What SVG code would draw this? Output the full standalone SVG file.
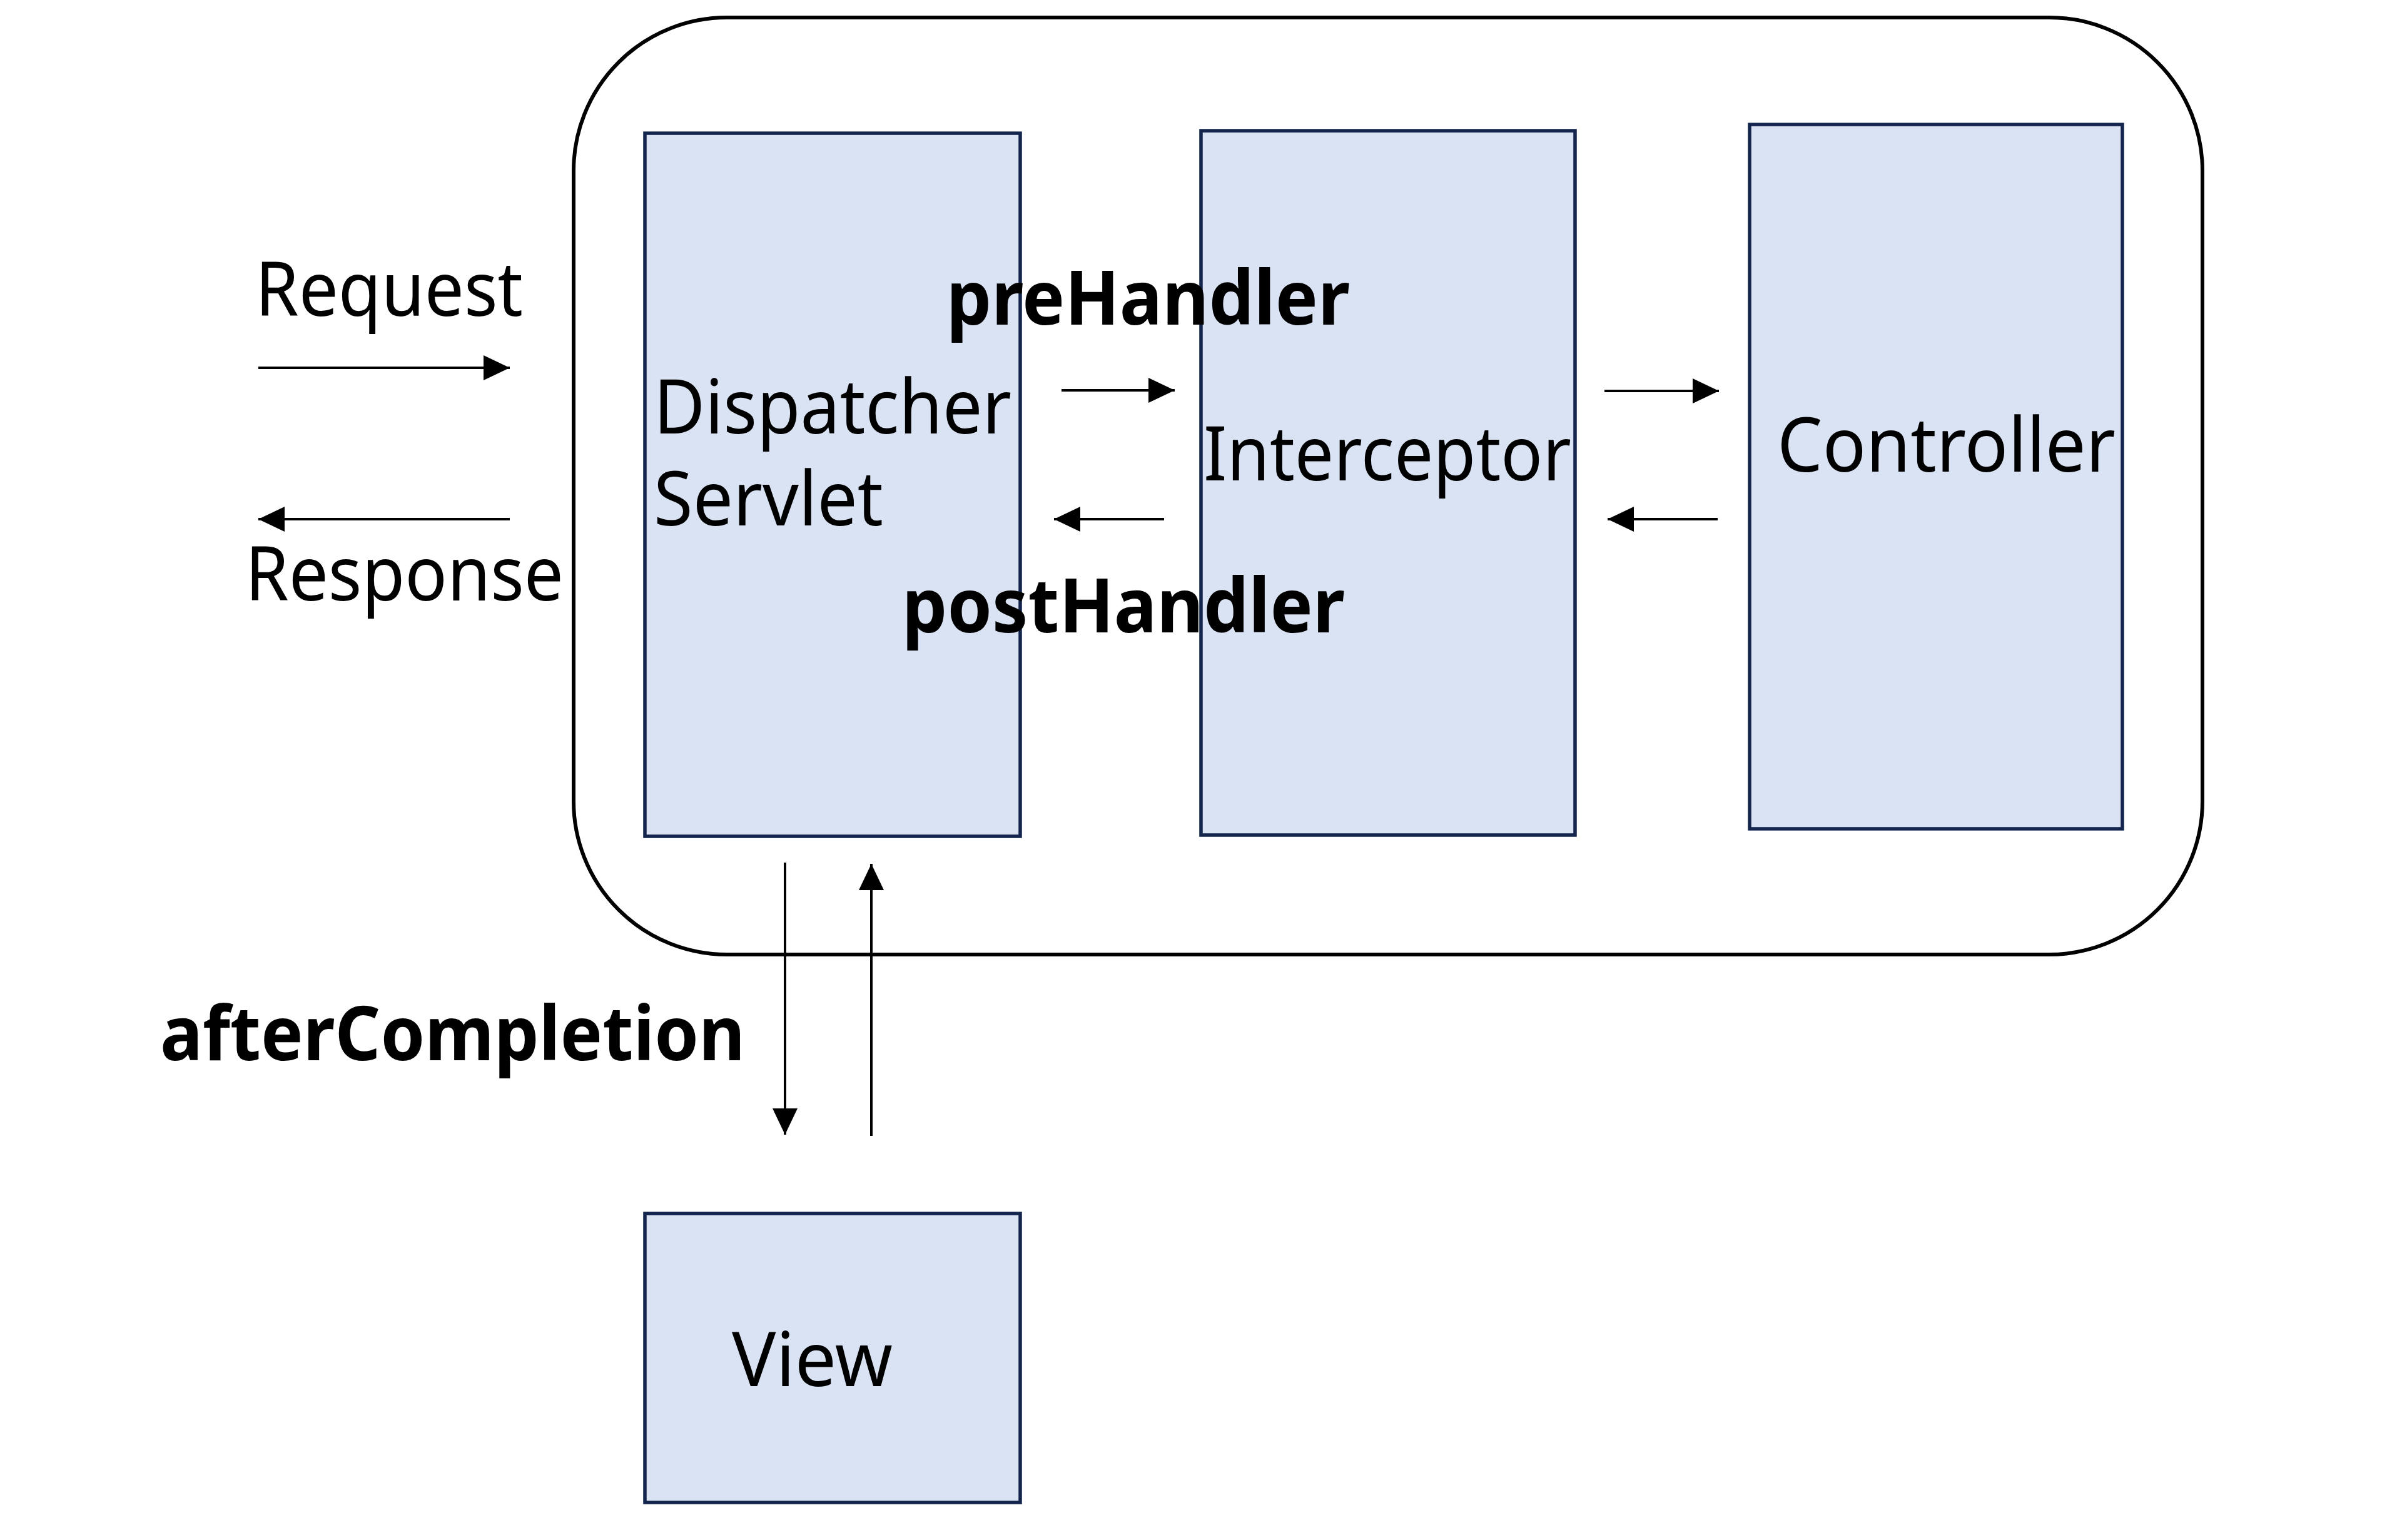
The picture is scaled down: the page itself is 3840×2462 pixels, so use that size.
<svg xmlns="http://www.w3.org/2000/svg" width="3840" height="2462" viewBox="0 0 3840 2462">
<defs>
<style>
.box{fill:#dae3f3;stroke:#13244d;stroke-width:5.5}
.frame{fill:none;stroke:#000;stroke-width:6}
.lbl{font-family:"Noto Sans","Open Sans",sans-serif;font-size:120px;fill:#000}
.b{font-weight:bold}
.con line{stroke:#000;stroke-width:4;fill:none;marker-end:url(#ah)}
</style>
<marker id="ah" markerUnits="userSpaceOnUse" markerWidth="44" markerHeight="44" viewBox="0 0 44 44" refX="42" refY="22" orient="auto">
<path d="M0,2 L42,22 L0,42 Z" fill="#000"/>
</marker>
</defs>
<rect width="3840" height="2462" fill="#fff"/>
<g id="container">
<rect class="frame" x="917" y="28" width="2604" height="1498" rx="245" ry="245"/>
</g>
<g id="dispatcher">
<rect class="box" x="1031" y="213" width="600" height="1124"/>
<text class="lbl" x="1045" y="693" textLength="572" lengthAdjust="spacingAndGlyphs">Dispatcher</text>
<text class="lbl" x="1045" y="840" textLength="367" lengthAdjust="spacingAndGlyphs">Servlet</text>
</g>
<g id="interceptor">
<rect class="box" x="1920" y="209" width="598" height="1126"/>
<text class="lbl" x="1924" y="768" textLength="588" lengthAdjust="spacingAndGlyphs">Interceptor</text>
</g>
<g id="controller">
<rect class="box" x="2797" y="199" width="596" height="1126"/>
<text class="lbl" x="2841" y="754" textLength="541" lengthAdjust="spacingAndGlyphs">Controller</text>
</g>
<g id="view">
<rect class="box" x="1031" y="1940" width="600" height="462"/>
<text class="lbl" x="1170" y="2216" textLength="257" lengthAdjust="spacingAndGlyphs">View</text>
</g>
<g id="labels">
<text class="lbl" x="408" y="505" textLength="428" lengthAdjust="spacingAndGlyphs">Request</text>
<text class="lbl" x="392" y="960" textLength="509" lengthAdjust="spacingAndGlyphs">Response</text>
<text class="lbl b" x="1513" y="519" textLength="645" lengthAdjust="spacingAndGlyphs">preHandler</text>
<text class="lbl b" x="1442" y="1011" textLength="708" lengthAdjust="spacingAndGlyphs">postHandler</text>
<text class="lbl b" x="256" y="1695" textLength="935" lengthAdjust="spacingAndGlyphs">afterCompletion</text>
</g>
<g id="connectors" class="con">
<line x1="413" y1="588" x2="815" y2="588"/>
<line x1="815" y1="830" x2="413" y2="830"/>
<line x1="1697" y1="624" x2="1878" y2="624"/>
<line x1="1861" y1="830" x2="1685" y2="830"/>
<line x1="2565" y1="625" x2="2748" y2="625"/>
<line x1="2746" y1="830" x2="2570" y2="830"/>
<line x1="1255" y1="1379" x2="1255" y2="1814"/>
<line x1="1393" y1="1816" x2="1393" y2="1381"/>
</g>
</svg>
